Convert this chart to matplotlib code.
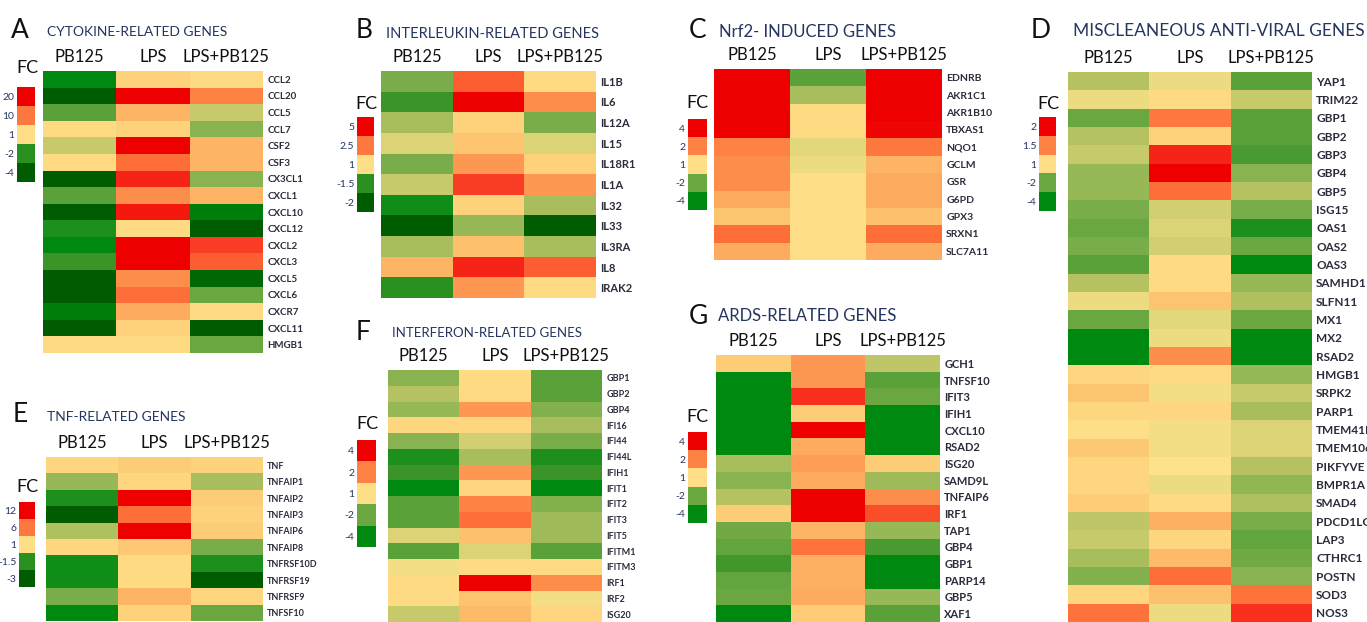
import matplotlib
matplotlib.use('Agg')
import matplotlib.pyplot as plt
import numpy as np
from matplotlib.colors import LinearSegmentedColormap

W, H = 1367, 622

plt.rcParams['font.family'] = ['Lato', 'DejaVu Sans']

CONDITIONS = ['PB125', 'LPS', 'LPS+PB125']

# cell values on a shared colour score: -2 dark green, 0 yellow, +2 red

genes_a = ['CCL2', 'CCL20', 'CCL5', 'CCL7', 'CSF2', 'CSF3', 'CX3CL1', 'CXCL1', 'CXCL10',
           'CXCL12', 'CXCL2', 'CXCL3', 'CXCL5', 'CXCL6', 'CXCR7', 'CXCL11', 'HMGB1']
vals_a = [[-1.6, 0.2, 0.1], [-2.0, 2.0, 1.0], [-1.0, 0.5, -0.3], [0.1, 0.2, -0.7],
          [-0.3, 2.0, 0.5], [0.1, 1.2, 0.5], [-2.0, 1.7, -0.7], [-1.0, 0.9, 0.5],
          [-2.0, 1.8, -1.7], [-1.4, 0.1, -2.0], [-1.6, 2.0, 1.5], [-1.2, 2.0, 1.3],
          [-2.0, 0.9, -1.9], [-2.0, 1.2, -0.9], [-1.7, 0.6, 0.1], [-2.0, 0.2, -2.0],
          [0.1, 0.1, -0.9]]
legend_a = ['20', '10', '1', '-2', '-4']

genes_b = ['IL1B', 'IL6', 'IL12A', 'IL15', 'IL18R1', 'IL1A', 'IL32', 'IL33', 'IL3RA', 'IL8', 'IRAK2']
vals_b = [[-0.8, 1.3, 0.1], [-1.2, 2.0, 0.9], [-0.5, 0.2, -0.8], [-0.2, 0.35, -0.2],
          [-0.8, 0.8, 0.2], [-0.3, 1.5, 0.8], [-1.5, 0.2, -0.5], [-2.0, -0.6, -2.0],
          [-0.5, 0.4, -0.5], [0.5, 1.7, 1.3], [-1.3, 0.8, 0.1]]
legend_b = ['5', '2.5', '1', '-1.5', '-2']

genes_c = ['EDNRB', 'AKR1C1', 'AKR1B10', 'TBXAS1', 'NQO1', 'GCLM', 'GSR', 'G6PD', 'GPX3',
           'SRXN1', 'SLC7A11']
vals_c = [[2.0, -1.0, 2.0], [2.0, -0.5, 2.0], [2.0, 0.1, 2.0], [2.0, 0.1, 1.95],
          [1.0, -0.15, 1.1], [0.9, -0.1, 0.5], [0.9, 0.05, 0.6], [0.6, 0.05, 0.6],
          [0.35, 0.05, 0.4], [1.2, 0.05, 1.2], [0.6, 0.05, 0.6]]
legend_c = ['4', '2', '1', '-2', '-4']

genes_d = ['YAP1', 'TRIM22', 'GBP1', 'GBP2', 'GBP3', 'GBP4', 'GBP5', 'ISG15', 'OAS1', 'OAS2',
           'OAS3', 'SAMHD1', 'SLFN11', 'MX1', 'MX2', 'RSAD2', 'HMGB1', 'SRPK2', 'PARP1',
           'TMEM41B', 'TMEM106B', 'PIKFYVE', 'BMPR1A', 'SMAD4', 'PDCD1LG2', 'LAP3',
           'CTHRC1', 'POSTN', 'SOD3', 'NOS3']
vals_d = [[-0.4, -0.1, -1.0], [-0.1, 0.1, -0.3], [-0.9, 1.1, -1.0], [-0.4, 0.2, -1.0],
          [-0.3, 1.7, -1.1], [-0.6, 2.0, -0.7], [-0.6, 1.2, -0.4], [-0.8, -0.25, -0.8],
          [-0.9, -0.2, -1.4], [-0.8, -0.25, -0.9], [-1.0, 0.1, -1.6], [-0.4, 0.1, -0.6],
          [-0.1, 0.35, -0.45], [-0.9, -0.15, -0.9], [-1.6, -0.1, -1.6], [-1.6, 0.9, -1.6],
          [0.15, 0.1, -0.6], [0.35, -0.05, -0.3], [0.15, 0.15, -0.5], [0.05, -0.05, -0.2],
          [0.3, -0.05, -0.2], [0.15, 0.0, -0.4], [0.15, -0.1, -0.65], [0.25, 0.1, -0.45],
          [-0.35, 0.55, -0.8], [-0.3, 0.15, -0.95], [-0.5, 0.45, -0.85], [-0.75, 1.2, -0.7],
          [0.15, 0.4, 1.15], [1.15, -0.1, 1.6]]
legend_d = ['2', '1.5', '1', '-2', '-4']

genes_e = ['TNF', 'TNFAIP1', 'TNFAIP2', 'TNFAIP3', 'TNFAIP6', 'TNFAIP8', 'TNFRSF10D',
           'TNFRSF19', 'TNFRSF9', 'TNFSF10']
vals_e = [[0.15, 0.25, 0.2], [-0.6, 0.15, -0.5], [-1.4, 2.0, 0.25], [-2.0, 1.2, 0.2],
          [-0.45, 2.0, 0.25], [0.15, 0.3, -0.8], [-1.5, 0.1, -1.4], [-1.5, 0.1, -2.0],
          [-0.8, 0.5, 0.15], [-1.6, 0.2, -0.9]]
legend_e = ['12', '6', '1', '-1.5', '-3']

genes_f = ['GBP1', 'GBP2', 'GBP4', 'IFI16', 'IFI44', 'IFI44L', 'IFIH1', 'IFIT1', 'IFIT2',
           'IFIT3', 'IFIT5', 'IFITM1', 'IFITM3', 'IRF1', 'IRF2', 'ISG20']
vals_f = [[-0.7, 0.1, -1.0], [-0.4, 0.1, -1.0], [-0.6, 0.8, -0.75], [0.15, 0.15, -0.5],
          [-0.7, -0.25, -0.8], [-1.4, -0.5, -1.4], [-1.2, 0.8, -1.2], [-1.6, 0.15, -1.6],
          [-1.0, 1.0, -0.75], [-1.0, 1.2, -0.55], [-0.2, 0.4, -0.55], [-1.0, -0.2, -1.0],
          [-0.05, 0.1, 0.1], [0.1, 2.0, 0.9], [0.1, 0.35, -0.05], [-0.3, 0.45, 0.15]]
legend_f = ['4', '2', '1', '-2', '-4']

genes_g = ['GCH1', 'TNFSF10', 'IFIT3', 'IFIH1', 'CXCL10', 'RSAD2', 'ISG20', 'SAMD9L',
           'TNFAIP6', 'IRF1', 'TAP1', 'GBP4', 'GBP1', 'PARP14', 'GBP5', 'XAF1']
vals_g = [[0.25, 0.8, -0.35], [-1.6, 0.8, -1.0], [-1.6, 1.6, -0.9], [-1.6, 0.25, -1.6],
          [-1.6, 2.0, -1.6], [-1.6, 0.6, -1.6], [-0.5, 0.75, 0.25], [-0.7, 0.6, -0.55],
          [-0.4, 2.0, 0.9], [0.25, 2.0, 1.4], [-0.85, 0.5, -0.6], [-0.95, 1.15, -1.1],
          [-1.15, 0.55, -1.6], [-0.95, 0.55, -1.6], [-0.9, 0.6, -0.6], [-1.6, 0.25, -1.0]]
legend_g = ['4', '2', '1', '-2', '-4']

legend_dark = [2.0, 1.1, 0.05, -1.3, -2.0]
legend_bright = [2.0, 1.0, 0.05, -0.9, -1.6]

cmap = LinearSegmentedColormap.from_list('fc', [
    (0.0, '#005c00'), (0.1, '#008a10'), (0.2, '#3a9428'), (0.3, '#7aae4a'),
    (0.4, '#b6c262'), (0.5, '#fee38a'), (0.6, '#fdc06c'), (0.7, '#fd9852'),
    (0.8, '#fd6e38'), (0.9, '#f8301e'), (1.0, '#ee0000')])

TITLE_COLOR = '#24355f'
LABEL_COLOR = '#2b2b3b'

fig = plt.figure(figsize=(W / 100, H / 100), dpi=100)


def px_axes(x0, y0, x1, y1):
    return fig.add_axes([x0 / W, 1 - y1 / H, (x1 - x0) / W, (y1 - y0) / H])


def draw_panel(letter, title, title_size, genes, vals, legend_labels, legend_levels,
               box, legend_box, letter_pos, title_pos, fc_pos, gene_size, head_size=12):
    ax = px_axes(*box)
    data = np.array(vals)
    ax.pcolormesh(data, cmap=cmap, vmin=-2, vmax=2)
    ax.set_xlim(0, 3)
    ax.set_ylim(len(genes), 0)
    ax.xaxis.tick_top()
    ax.set_xticks(np.arange(3) + 0.5, CONDITIONS, fontsize=head_size, color='#111111')
    ax.yaxis.tick_right()
    ax.set_yticks(np.arange(len(genes)) + 0.5, genes, fontsize=gene_size,
                  color=LABEL_COLOR, fontweight='bold')
    ax.tick_params(length=0, pad=3)
    ax.tick_params(axis='x', pad=4)
    for s in ax.spines.values():
        s.set_visible(False)

    lax = px_axes(*legend_box)
    lax.pcolormesh(np.array(legend_levels).reshape(-1, 1), cmap=cmap, vmin=-2, vmax=2)
    lax.set_ylim(len(legend_levels), 0)
    lax.set_xticks([])
    lax.set_yticks(np.arange(len(legend_levels)) + 0.5, legend_labels, fontsize=7.5,
                   color=TITLE_COLOR)
    lax.tick_params(length=0, pad=2)
    for s in lax.spines.values():
        s.set_visible(False)

    fig.text(letter_pos[0] / W, 1 - letter_pos[1] / H, letter, fontsize=19,
             va='center', ha='left', color='#111111')
    fig.text(title_pos[0] / W, 1 - title_pos[1] / H, title, fontsize=title_size,
             va='center', ha='left', color=TITLE_COLOR)
    fig.text(fc_pos[0] / W, 1 - fc_pos[1] / H, 'FC', fontsize=13,
             va='center', ha='center', color='#111111')


draw_panel('A', 'CYTOKINE-RELATED GENES', 10, genes_a, vals_a, legend_a, legend_dark,
           (43, 71, 263, 353), (17, 87, 35, 182), (11, 30), (47, 32), (27, 68), 7)
draw_panel('B', 'INTERLEUKIN-RELATED GENES', 10.5, genes_b, vals_b, legend_b, legend_dark,
           (381, 71, 596, 298), (357, 117, 374, 212), (356, 31), (386, 34), (366, 104), 8)
draw_panel('C', 'Nrf2- INDUCED GENES', 12, genes_c, vals_c, legend_c, legend_bright,
           (714, 69, 942, 260), (688, 119, 707, 210), (689, 31), (719, 32), (697, 103), 7.5)
draw_panel('D', 'MISCLEANEOUS ANTI-VIRAL GENES', 12.5, genes_d, vals_d, legend_d, legend_bright,
           (1068, 72, 1312, 622), (1039, 117, 1056, 211), (1031, 30), (1073, 31), (1048, 104), 8.5)
draw_panel('E', 'TNF-RELATED GENES', 10, genes_e, vals_e, legend_e, legend_dark,
           (46, 457, 263, 621), (19, 502, 35, 587), (13, 414), (47, 417), (27, 487), 6.5)
draw_panel('F', 'INTERFERON-RELATED GENES', 9.5, genes_f, vals_f, legend_f, legend_bright,
           (388, 370, 602, 622), (357, 440, 376, 547), (356, 332), (392, 333), (367, 424), 6.5)
draw_panel('G', 'ARDS-RELATED GENES', 12, genes_g, vals_g, legend_g, legend_bright,
           (716, 355, 940, 622), (688, 432, 707, 523), (689, 317), (718, 316), (697, 417), 8)

fig.savefig('out.png', dpi=100)
